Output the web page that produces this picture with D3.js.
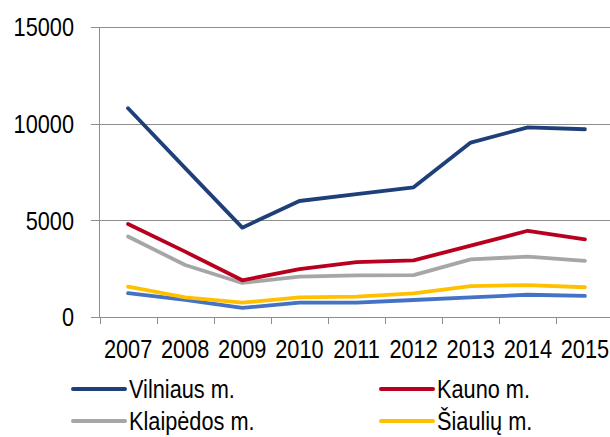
<!DOCTYPE html>
<html>
<head>
<meta charset="utf-8">
<script src="https://cdn.jsdelivr.net/npm/d3@7"></script>
<style>
  html, body { margin: 0; padding: 0; background: #fff; }
  svg { display: block; }
  text { font-family: "Liberation Sans", Arial, sans-serif; fill: #000; }
</style>
</head>
<body>
<svg id="chart" width="610" height="437"></svg>
<script>
const years = ["2007","2008","2009","2010","2011","2012","2013","2014","2015"];
const yTicks = [0, 5000, 10000, 15000];
const vilniaus = [10800, 7700, 4620, 6000, 6350, 6710, 9020, 9810, 9710];
const kauno = [4810, 3380, 1900, 2480, 2840, 2930, 3690, 4460, 4020];
const klaipedos = [4160, 2690, 1760, 2090, 2150, 2170, 2980, 3120, 2900];
const siauliu = [1570, 1020, 740, 1020, 1050, 1220, 1600, 1650, 1540];
const kiti = [1230, 880, 470, 740, 740, 880, 1020, 1150, 1090];

const seriesNames = ["Vilniaus m.", "Kauno m.", "Klaipėdos m.", "Šiaulių m.", ""];
const seriesValues = [vilniaus, kauno, klaipedos, siauliu, kiti];
const seriesColors = ["#1F3F7A", "#B8001E", "#A6A6A6", "#FFC000", "#4472C4"];

const FS = "26.5px";
const SX = 0.82;

const svg = d3.select("#chart");
const x = d3.scaleBand().domain(years).range([99.5, 613.5]);
const y = d3.scaleLinear().domain([0, 15000]).range([317, 27]);

function place(sel, fx, fy) {
  return sel.attr("transform", (d, i) => `translate(${fx(d, i)},${fy(d, i)}) scale(${SX},1)`);
}

// gridlines
svg.append("g").selectAll("line").data(yTicks).join("line")
  .attr("x1", 91).attr("x2", 610)
  .attr("y1", d => Math.round(y(d)) + 0.5).attr("y2", d => Math.round(y(d)) + 0.5)
  .attr("stroke", "#8E8E8E").attr("stroke-width", 1);

// y axis line
svg.append("line").attr("x1", 99.5).attr("x2", 99.5).attr("y1", y(15000)).attr("y2", 317.5)
  .attr("stroke", "#8E8E8E").attr("stroke-width", 1);

// y labels
place(svg.append("g").selectAll("text").data(yTicks).join("text"),
    () => 74, d => y(d))
  .attr("text-anchor", "end").attr("dominant-baseline", "central")
  .style("font-size", FS)
  .text(d => d);

// x ticks
const tickPos = years.map(d => x(d)).concat([x(years[years.length-1]) + x.bandwidth()]);
svg.append("g").selectAll("line").data(tickPos).join("line")
  .attr("x1", d => Math.round(d) + 0.5).attr("x2", d => Math.round(d) + 0.5)
  .attr("y1", 317).attr("y2", 324)
  .attr("stroke", "#8E8E8E").attr("stroke-width", 1);

// x labels
place(svg.append("g").selectAll("text").data(years).join("text"),
    d => x(d) + x.bandwidth() / 2, () => 349)
  .attr("text-anchor", "middle").attr("dominant-baseline", "central")
  .style("font-size", FS)
  .text(d => d);

// lines
const line = d3.line()
  .x((d, i) => x(years[i]) + x.bandwidth() / 2)
  .y(d => y(d));

const order = [4, 3, 2, 1, 0];
svg.append("g").selectAll("path").data(order).join("path")
  .attr("d", i => line(seriesValues[i]))
  .attr("fill", "none")
  .attr("stroke", i => seriesColors[i])
  .attr("stroke-width", 3.8)
  .attr("stroke-linejoin", "round")
  .attr("stroke-linecap", "round");

// legend
const legendItems = [0, 1, 2, 3].map(i => ({
  name: seriesNames[i], color: seriesColors[i],
  lx: i % 2 === 0 ? 73 : 381, ly: i < 2 ? 389 : 421
}));
const lg = svg.append("g").selectAll("g").data(legendItems).join("g");
lg.append("line")
  .attr("x1", d => d.lx).attr("x2", d => d.lx + 52)
  .attr("y1", d => d.ly).attr("y2", d => d.ly)
  .attr("stroke", d => d.color).attr("stroke-width", 4).attr("stroke-linecap", "round");
place(lg.append("text"), d => d.lx + 56, d => d.ly)
  .attr("dominant-baseline", "central")
  .style("font-size", FS)
  .text(d => d.name);
</script>
</body>
</html>
